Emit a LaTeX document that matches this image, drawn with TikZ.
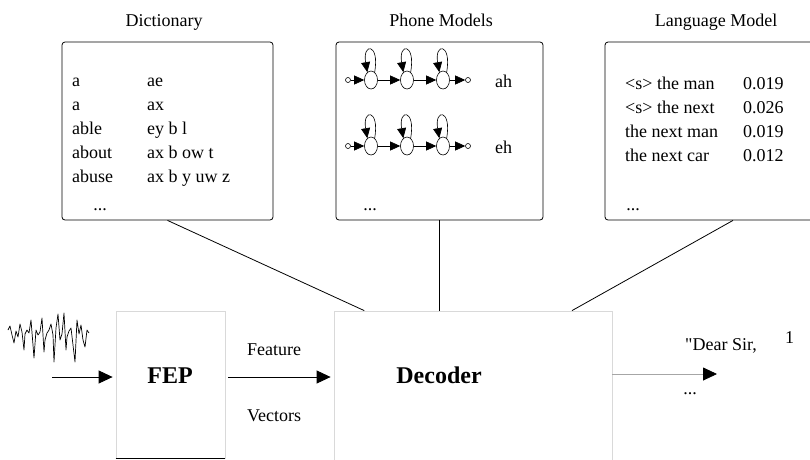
\documentclass[tikz,border=0pt]{standalone}
\usepackage{fontspec}
\setmainfont{Liberation Serif}
\usetikzlibrary{shapes,arrows.meta,positioning,calc}
\tikzstyle{store} = [rectangle, draw, rounded corners=3pt, line width=0.8pt, inner sep=0pt]
\tikzstyle{block} = [rectangle, draw=gray!30, line width=0.8pt, inner sep=0pt]
\tikzstyle{txt} = [inner sep=0pt, font=\fontsize{18}{22}\selectfont]
\tikzstyle{bold} = [inner sep=0pt, font=\fontsize{24}{28}\selectfont\bfseries]
\tikzstyle{hmmstate} = [ellipse, draw, minimum width=13pt, minimum height=18pt, inner sep=0pt, line width=0.6pt]
\tikzstyle{hmmend} = [circle, draw, minimum size=5pt, inner sep=0pt, line width=0.6pt]
\tikzstyle{line} = [draw, line width=0.8pt, -{Triangle[length=14pt,width=13pt,color=black]}]
\tikzstyle{hmmline} = [draw, line width=0.6pt, -{Triangle[length=10pt,width=9pt]}]

\begin{document}
\begin{tikzpicture}[x=1pt, y=-1pt]
		\useasboundingbox (0,0) rectangle (810,459);
		% Knowledge sources
		\node[store, minimum width=211pt, minimum height=178pt] (Dictionary) at (167.5,131) {};
		\node[store, minimum width=207pt, minimum height=178pt] (PhoneModels) at (439.5,131) {};
		\node[store, minimum width=256pt, minimum height=178pt] (LanguageModel) at (733,131) {};
		\node[txt, anchor=base] (DictTitle) at (164,26) {Dictionary};
		\node[txt, anchor=base] (PhoneTitle) at (441,26) {Phone Models};
		\node[txt, anchor=base] (LangTitle) at (716,26) {Language Model};
		
		% Dictionary entries
		\foreach \y/\w/\p [count=\i] in {86/a/ae, 110/a/ax, 134/able/ey b l, 158/about/ax b ow t, 182/abuse/ax b y uw z} {
			\node[txt, anchor=base west] (Word\i) at (72,\y) {\w};
			\node[txt, anchor=base west] (Pron\i) at (147,\y) {\p};
		}
		\node[txt, anchor=base] (DictDots) at (100,210) {...};
		
		% Phone models
		\foreach \y/\ph in {80/ah, 146/eh} {
			\node[hmmend] (In\ph) at (348,\y) {};
			\node[hmmstate] (S\ph1) at (371,\y) {};
			\node[hmmstate] (S\ph2) at (407,\y) {};
			\node[hmmstate] (S\ph3) at (443,\y) {};
			\node[hmmend] (Out\ph) at (468,\y) {};
			\node[txt, anchor=west] (Name\ph) at (495,\y+1) {\ph};
			\path [hmmline] (In\ph) -- (S\ph1);
			\path [hmmline] (S\ph1) -- (S\ph2);
			\path [hmmline] (S\ph2) -- (S\ph3);
			\path [hmmline] (S\ph3) -- (Out\ph);
			\foreach \s in {1,2,3}
				\path [hmmline] (S\ph\s.65) .. controls +(-80:30) and +(-100:30) .. (S\ph\s.115);
		}
		\node[txt, anchor=base] (PhoneDots) at (370,210) {...};
		
		% Language model
		\foreach \y/\w/\p [count=\i] in {89/<s> the man/0.019, 113/<s> the next/0.026, 137/the next man/0.019, 161/the next car/0.012} {
			\node[txt, anchor=base west] (Gram\i) at (625,\y) {\w};
			\node[txt, anchor=base west] (Prob\i) at (743,\y) {\p};
		}
		\node[txt, anchor=base] (LangDots) at (633,210) {...};
		
		% Processing chain
		\node[block, minimum width=109pt, minimum height=147pt] (FEP) at (170.5,384.5) {};
		\draw[line width=0.8pt] (FEP.south west) -- (FEP.south east);
		\node[block, minimum width=278pt, minimum height=160pt] (Decoder) at (473,391) {};
		\node[bold, anchor=base] (FEPLabel) at (170,383) {FEP};
		\node[bold, anchor=base] (DecoderLabel) at (439,383) {Decoder};
		\node[txt, anchor=base] (Feature) at (274,355) {Feature};
		\node[txt, anchor=base] (Vectors) at (274,421) {Vectors};
		\node[txt, anchor=base west] (Output) at (685,350) {\textquotedbl Dear Sir,};
		\node[txt, anchor=base west] (PageNo) at (785,343) {1};
		\node[txt, anchor=base] (OutDots) at (690,394) {...};
		\coordinate (Speech) at (52,377);
		\coordinate (Text) at (717,374);
		
		% Speech waveform
		\draw[line width=0.7pt, line join=round] plot coordinates {(8,330) (10,326) (12,335) (14,343) (16,331) (18,337) (20,324) (22,332) (24,350) (25,334) (27,330) (29,333) (31,320) (33,345) (34,358) (36,330) (38,335) (40,332) (42,318) (44,352) (45,340) (47,333) (49,330) (51,324) (53,335) (54,362) (56,328) (58,314) (60,340) (62,334) (64,313) (66,350) (67,337) (69,331) (71,328) (73,345) (75,362) (77,320) (79,334) (81,325) (83,340) (85,347) (87,330) (89,333)};
		
		% Paths
		\path [line, shorten >=3pt] (Speech) -- (Speech -| FEP.west);
		\path [line, shorten <=3pt, shorten >=3pt] (FEP.east |- Speech) -- (Decoder.west |- Speech);
		\path [line, draw=gray!70] (Decoder.east |- Text) -- (Text);
		\draw[line width=0.8pt] (Dictionary.south) -- ($(Decoder.north west)!0.11!(Decoder.north east)$);
		\draw[line width=0.8pt] (PhoneModels.south) -- (PhoneModels.south |- Decoder.north);
		\draw[line width=0.8pt] (LanguageModel.south) -- ($(Decoder.north west)!0.855!(Decoder.north east)$);
	\end{tikzpicture}
\end{document}
